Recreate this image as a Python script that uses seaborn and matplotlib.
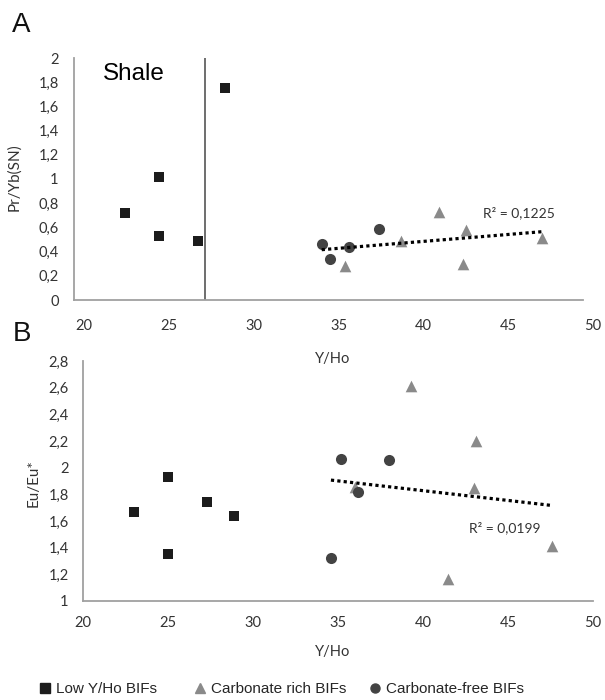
import numpy as np
import pandas as pd
import matplotlib
matplotlib.use("Agg")
import matplotlib.pyplot as plt
from matplotlib.lines import Line2D
from matplotlib.ticker import FuncFormatter
from matplotlib.transforms import ScaledTranslation
import seaborn as sns

# ---------------- data ----------------
low_yho = [23.0, 25.0, 25.0, 27.3, 28.9]
low_pr_yb = [0.72, 1.02, 0.53, 0.49, 1.75]
low_eu = [1.67, 1.93, 1.35, 1.74, 1.64]

carb_rich_yho_A = [36.0, 39.3, 41.5, 42.9, 43.1, 47.6]
carb_rich_pr_yb = [0.283, 0.49, 0.725, 0.30, 0.58, 0.51]
carb_rich_yho_B = [36.0, 39.3, 41.5, 43.0, 43.1, 47.6]
carb_rich_eu = [1.857, 2.61, 1.165, 1.845, 2.20, 1.415]

carb_free_yho_A = [34.6, 35.1, 36.2, 38.0]
carb_free_pr_yb = [0.46, 0.336, 0.44, 0.587]
carb_free_yho_B = [34.6, 35.2, 36.2, 38.0]
carb_free_eu = [1.325, 2.065, 1.815, 2.06]

shale_yho = 27.7
r2_A = "R² = 0,1225"
r2_B = "R² = 0,0199"
series_names = ["Low Y/Ho BIFs", "Carbonate rich BIFs", "Carbonate-free BIFs"]
x_ticks = [20, 25, 30, 35, 40, 45, 50]
yA_ticks = [0, 0.2, 0.4, 0.6, 0.8, 1.0, 1.2, 1.4, 1.6, 1.8, 2.0]
yB_ticks = [1.0, 1.2, 1.4, 1.6, 1.8, 2.0, 2.2, 2.4, 2.6, 2.8]

# ---------------- style ----------------
sns.set_theme(style="white")
plt.rcParams["font.family"] = ["Lato", "DejaVu Sans"]

c_sq = "#1c1c1c"
c_tri = "#8a8a8a"
c_circ = "#434343"
tick_col = "#333333"
spine_col = "#a0a0a0"

fig = plt.figure(figsize=(6.05, 7.0), dpi=100)
W, H = 605, 700
axA = fig.add_axes([74 / W, 1 - 300 / H, 509 / W, 242 / H])
axB = fig.add_axes([82.5 / W, 1 - 601 / H, 510.5 / W, 240 / H])
axB.patch.set_alpha(0)
axA.patch.set_alpha(0)

comma = FuncFormatter(lambda v, p: (("%.1f" % v).rstrip("0").rstrip(".")).replace(".", ","))

def make_df(x, y):
    return pd.DataFrame({"x": x, "y": y})

def draw(ax, lx, ly, rx, ry, fx, fy):
    sns.scatterplot(data=make_df(lx, ly), x="x", y="y", ax=ax, marker="s", s=56,
                    color=c_sq, edgecolor=c_sq, linewidth=0, zorder=3)
    sns.scatterplot(data=make_df(rx, ry), x="x", y="y", ax=ax, marker="^", s=70,
                    color=c_tri, edgecolor=c_tri, linewidth=0, zorder=3)
    sns.scatterplot(data=make_df(fx, fy), x="x", y="y", ax=ax, marker="o", s=64,
                    color=c_circ, edgecolor=c_circ, linewidth=0, zorder=3)
    trend = make_df(list(rx) + list(fx), list(ry) + list(fy))
    sns.regplot(data=trend, x="x", y="y", ax=ax, scatter=False, ci=None, truncate=True,
                line_kws=dict(color="black", linestyle=(0, (1, 1.0)), linewidth=2.3, zorder=4))

draw(axA, low_yho, low_pr_yb, carb_rich_yho_A, carb_rich_pr_yb, carb_free_yho_A, carb_free_pr_yb)
draw(axB, low_yho, low_eu, carb_rich_yho_B, carb_rich_eu, carb_free_yho_B, carb_free_eu)

axA.axvline(shale_yho, color="#555555", linewidth=1.2, zorder=2)

for ax, yt, ylim in [(axA, yA_ticks, (0, 2)), (axB, yB_ticks, (1, 2.8))]:
    ax.set_xlim(20, 50)
    ax.set_ylim(*ylim)
    ax.set_xticks(x_ticks)
    ax.set_yticks(yt)
    ax.yaxis.set_major_formatter(comma)
    ax.xaxis.set_major_formatter(comma)
    for s in ["top", "right"]:
        ax.spines[s].set_visible(False)
    for s in ["left", "bottom"]:
        ax.spines[s].set_color(spine_col)
        ax.spines[s].set_linewidth(1.3)
    ax.grid(False)

axA.tick_params(axis="both", length=0, labelsize=10.5, labelcolor=tick_col)
axA.tick_params(axis="y", pad=11)
axA.tick_params(axis="x", pad=14)
axB.tick_params(axis="both", length=0, labelsize=10.5, labelcolor=tick_col)
axB.tick_params(axis="y", pad=10)
axB.tick_params(axis="x", pad=11)

# panel A tick labels sit ~10 px to the right of their ticks in the reference
shift = ScaledTranslation(10 / 100, 0, fig.dpi_scale_trans)
for lbl in axA.get_xticklabels():
    lbl.set_transform(lbl.get_transform() + shift)

axA.set_ylabel("Pr/Yb(SN)", fontsize=11, color=tick_col)
axA.yaxis.set_label_coords(-0.104, 0.508)
axA.set_xlabel("Y/Ho", fontsize=10.5, color=tick_col)
axA.xaxis.set_label_coords(0.509, -0.215)

axB.set_ylabel("Eu/Eu*", fontsize=11, color=tick_col)
axB.yaxis.set_label_coords(-0.082, 0.49)
axB.set_xlabel("Y/Ho", fontsize=10.5, color=tick_col)
axB.xaxis.set_label_coords(0.49, -0.183)

axA.text(44.1, 0.72, r2_A, fontsize=10, color=tick_col, va="center", ha="left")
axB.text(42.7, 1.55, r2_B, fontsize=10, color=tick_col, va="center", ha="left")
axA.text(21.7, 1.87, "Shale", fontsize=17.5, color="black", va="center", ha="left",
         family=["Liberation Sans", "DejaVu Sans"])

fig.text(21 / W, 1 - 25 / H, "A", fontsize=20, ha="center", va="center",
         family=["Liberation Sans", "DejaVu Sans"], color="#111111")
fig.text(22 / W, 1 - 334 / H, "B", fontsize=20, ha="center", va="center",
         family=["Liberation Sans", "DejaVu Sans"], color="#111111")

# legend
leg_items = [
    (series_names[0], "s", c_sq, 38),
    (series_names[1], "^", c_tri, 193),
    (series_names[2], "o", c_circ, 368),
]
for name, mk, col, xpx in leg_items:
    h = Line2D([], [], marker=mk, color=col, linestyle="none", markersize=6.5)
    fig.legend(handles=[h], labels=[name], loc="center left",
               bbox_to_anchor=(xpx / W, 1 - 689 / H), frameon=False,
               handlelength=0.9, handletextpad=0.25, borderpad=0, borderaxespad=0,
               prop={"family": ["Liberation Sans", "DejaVu Sans"], "size": 11})

fig.savefig("out.png", dpi=100)
